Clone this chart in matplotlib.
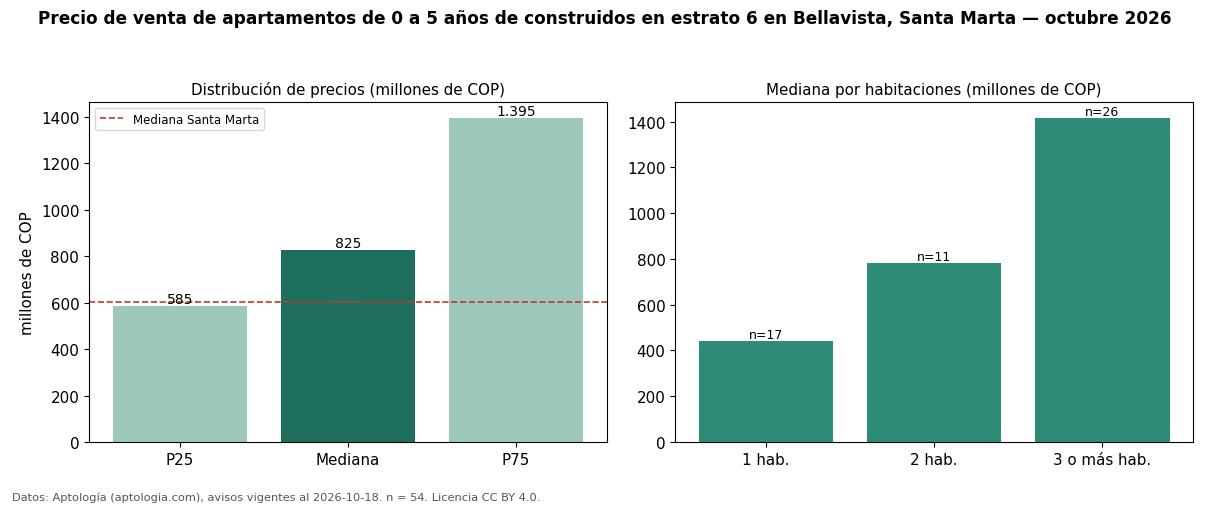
import matplotlib
matplotlib.use('Agg')
import matplotlib.pyplot as plt

plt.rcParams['font.family'] = 'DejaVu Sans'

# distribucion de precios
dist_labels = ['P25', 'Mediana', 'P75']
dist_values = [585, 825, 1395]
dist_text = ['585', '825', '1.395']
mediana_ciudad = 605

# mediana por habitaciones
hab_labels = ['1 hab.', '2 hab.', '3 o más hab.']
hab_values = [440, 780, 1415]
hab_n = [17, 11, 26]

light = '#9ec8bb'
dark = '#1f6f5f'
mid = '#2e8b77'
red = '#c0392b'

fig = plt.figure(figsize=(12.1, 5.06), dpi=100)
ax1 = fig.add_axes([0.0736, 0.1245, 0.428, 0.672])
ax2 = fig.add_axes([0.558, 0.1245, 0.428, 0.672])

bars = ax1.bar(dist_labels, dist_values, width=0.8, color=[light, dark, light])
for b, t in zip(bars, dist_text):
    ax1.text(b.get_x() + b.get_width() / 2, b.get_height(), t,
             ha='center', va='bottom', fontsize=10)
ax1.axhline(mediana_ciudad, color=red, linestyle='--', linewidth=1.2, label='Mediana Santa Marta')
ax1.legend(loc='upper left', fontsize=8.5)
ax1.set_title('Distribución de precios (millones de COP)', fontsize=10.9)
ax1.set_ylabel('millones de COP', fontsize=10.9)
ax1.tick_params(labelsize=10.9)

bars = ax2.bar(hab_labels, hab_values, width=0.8, color=mid)
for b, n in zip(bars, hab_n):
    ax2.text(b.get_x() + b.get_width() / 2, b.get_height(), f'n={n}',
             ha='center', va='bottom', fontsize=9)
ax2.set_title('Mediana por habitaciones (millones de COP)', fontsize=10.9)
ax2.tick_params(labelsize=10.9)

fig.suptitle('Precio de venta de apartamentos de 0 a 5 años de construidos en estrato 6 en Bellavista, Santa Marta — octubre 2026',
             fontsize=12.15, fontweight='bold', y=0.98)
fig.text(0.01, 0.01, 'Datos: Aptología (aptologia.com), avisos vigentes al 2026-10-18. n = 54. Licencia CC BY 4.0.',
         fontsize=8.2, color='#555555')

fig.savefig('out.png', dpi=100)
